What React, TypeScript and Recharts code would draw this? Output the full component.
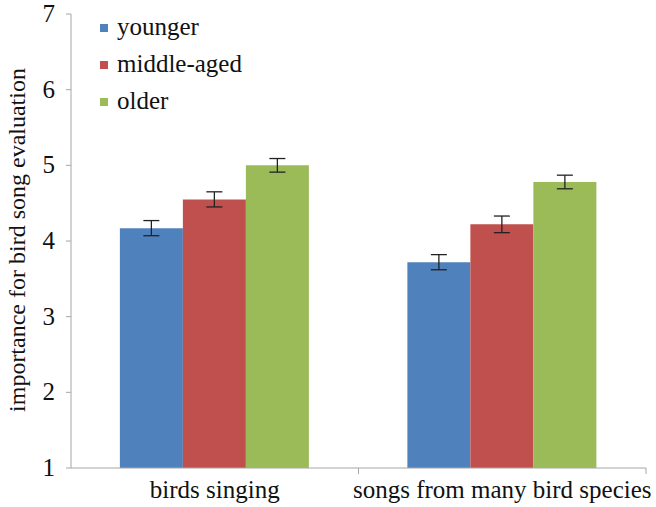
import React from 'react';
import { BarChart, Bar, XAxis, YAxis, ErrorBar } from 'recharts';

const categories = ['birds singing', 'songs from many bird species'];
const younger = [4.17, 3.72];
const middleAged = [4.55, 4.22];
const older = [5.0, 4.78];
const youngerErr = [0.1, 0.1];
const middleAgedErr = [0.1, 0.11];
const olderErr = [0.09, 0.09];
const yTicks = [1, 2, 3, 4, 5, 6, 7];

const series = [
  { key: 'younger', name: 'younger', color: '#4F81BD' },
  { key: 'middle', name: 'middle-aged', color: '#C0504D' },
  { key: 'older', name: 'older', color: '#9BBB59' }
];

const data = categories.map((c, i) => ({
  category: c,
  younger: younger[i],
  middle: middleAged[i],
  older: older[i],
  youngerErr: youngerErr[i],
  middleErr: middleAgedErr[i],
  olderErr: olderErr[i]
}));

const FONT = 'Liberation Serif';
const HALF_BAND = 143.75;
const AXIS_Y = 468;

// category label plus a boundary tick between categories (Excel style)
const XTick = ({ x, y, payload }: any) => (
  <g>
    <line x1={x + HALF_BAND} y1={AXIS_Y} x2={x + HALF_BAND} y2={AXIS_Y + 6} stroke="#a6a6a6" />
    <text x={x} y={AXIS_Y + 30} textAnchor="middle" fontFamily={FONT} fontSize={25} fill="#111">
      {payload.value}
    </text>
  </g>
);

const YTick = ({ x, y, payload }: any) => (
  <text x={x - 9} y={y + 8} textAnchor="end" fontFamily={FONT} fontSize={25} fill="#111">
    {payload.value}
  </text>
);

const App = () => {
  return (
    <div style={{ position: 'absolute', left: 0, top: 0, background: '#fff', fontFamily: FONT }}>
      <BarChart
        width={656}
        height={507}
        data={data}
        margin={{ top: 14, right: 10, left: 0, bottom: 0 }}
        barCategoryGap="17%"
        barGap={0}
        style={{ fontFamily: FONT }}
      >
        <XAxis
          dataKey="category"
          height={39}
          axisLine={{ stroke: '#a6a6a6' }}
          tickLine={false}
          tick={<XTick />}
          interval={0}
        />
        <YAxis
          width={71}
          domain={[1, 7]}
          ticks={yTicks}
          allowDataOverflow
          axisLine={{ stroke: '#a6a6a6' }}
          tickLine={{ stroke: '#a6a6a6' }}
          tickSize={5}
          tick={<YTick />}
        />
        {series.map(s => (
          <Bar key={s.key} dataKey={s.key} name={s.name} fill={s.color} isAnimationActive={false}>
            <ErrorBar dataKey={s.key + 'Err'} width={8} stroke="#222" strokeWidth={1.3} />
          </Bar>
        ))}
        <text
          x={0}
          y={0}
          transform="translate(25, 240) rotate(-90)"
          textAnchor="middle"
          fontFamily={FONT}
          fontSize={24}
          fill="#111"
        >
          importance for bird song evaluation
        </text>
        {series.map((s, i) => (
          <rect key={s.key + '-m'} x={100} y={24 + i * 37} width={8} height={8} fill={s.color} />
        ))}
        {series.map((s, i) => (
          <text key={s.key + '-t'} x={117} y={35 + i * 37} fontFamily={FONT} fontSize={25} fill="#111">
            {s.name}
          </text>
        ))}
      </BarChart>
    </div>
  );
};

export default App;
